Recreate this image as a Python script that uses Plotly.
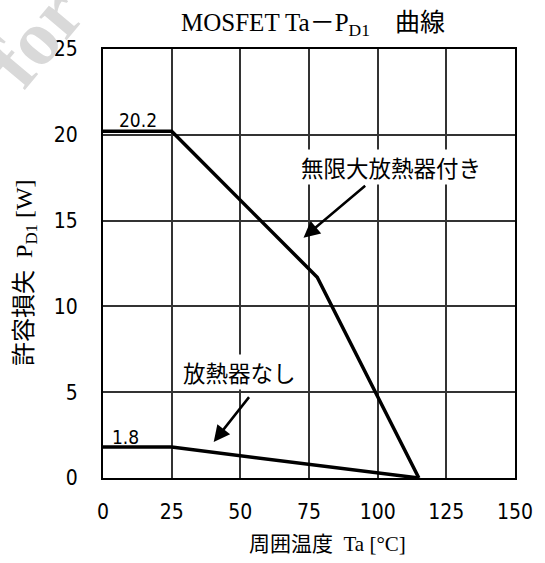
import plotly.graph_objects as go

# ---- data ----
ta_heatsink = [0, 25, 78, 115]
pd_heatsink = [20.2, 20.2, 11.7, 0]
ta_noheatsink = [0, 25, 115]
pd_noheatsink = [1.8, 1.8, 0]
x_ticks = [0, 25, 50, 75, 100, 125, 150]
y_ticks = [0, 5, 10, 15, 20, 25]

title_text = "MOSFET Ta－P<sub>D1</sub>　曲線"
x_title = "周囲温度  Ta [°C]"
y_title = "許容損失  P<sub>D1</sub> [W]"
label_heatsink = "無限大放熱器付き"
label_noheatsink = "放熱器なし"

NUMFONT = "DejaVu Sans Condensed, DejaVu Sans"
SERIF = "Liberation Serif, Noto Sans CJK JP"
CJK = "Noto Sans CJK JP"

L, R, T, B = 103, 25, 49, 85
W, H = 545, 563
PW, PH = W - L - R, H - T - B


def px(xp):
    return (xp - L) / PW


def py(yp):
    return (H - B - yp) / PH


fig = go.Figure()
fig.add_trace(go.Scatter(x=ta_heatsink, y=pd_heatsink, mode="lines",
                         line=dict(color="black", width=3.5), showlegend=False,
                         cliponaxis=False, hoverinfo="skip"))
fig.add_trace(go.Scatter(x=ta_noheatsink, y=pd_noheatsink, mode="lines",
                         line=dict(color="black", width=3.5), showlegend=False,
                         cliponaxis=False, hoverinfo="skip"))

ann = []
# watermark fragment (cut at the page corner, as in the reference)
ann.append(dict(x=px(34), y=py(36), xref="paper", yref="paper", text="<b>for</b>",
                showarrow=False, textangle=-50, xanchor="center", yanchor="middle",
                font=dict(family="Liberation Serif", size=78, color="#d9d9d9")))
# value labels
ann.append(dict(x=12.6, y=20.86, xref="x", yref="y", text="20.2", showarrow=False,
                font=dict(family=NUMFONT, size=19, color="black")))
ann.append(dict(x=8.3, y=2.4, xref="x", yref="y", text="1.8", showarrow=False,
                font=dict(family=NUMFONT, size=19, color="black")))
ann.append(dict(x=114, y=-0.7, xref="x", yref="y", text="115", showarrow=False,
                font=dict(family=NUMFONT, size=19, color="black")))
# curve labels
ann.append(dict(x=105, y=18.1, xref="x", yref="y", text=label_heatsink, showarrow=False,
                bgcolor="white", font=dict(family=CJK, size=22.5, color="black")))
ann.append(dict(x=49.6, y=6.2, xref="x", yref="y", text=label_noheatsink, showarrow=False,
                bgcolor="white", font=dict(family=CJK, size=22.5, color="black")))
# arrows
ann.append(dict(x=73.0, y=14.0, ax=96.0, ay=17.1, xref="x", yref="y", axref="x", ayref="y",
                text="", showarrow=True, arrowhead=2, arrowsize=1.3, arrowwidth=2.5,
                arrowcolor="black"))
ann.append(dict(x=40.3, y=2.1, ax=53.6, ay=4.8, xref="x", yref="y", axref="x", ayref="y",
                text="", showarrow=True, arrowhead=2, arrowsize=1.3, arrowwidth=2.5,
                arrowcolor="black"))
# axis titles
ann.append(dict(x=px(330), y=py(544), xref="paper", yref="paper", text=x_title,
                showarrow=False, xanchor="center", yanchor="middle",
                font=dict(family=SERIF, size=21, color="black")))
ann.append(dict(x=px(25), y=py(272), xref="paper", yref="paper", text=y_title,
                showarrow=False, xanchor="center", yanchor="middle", textangle=-90,
                font=dict(family=SERIF, size=24, color="black")))

fig.update_layout(
    width=W, height=H,
    margin=dict(l=L, r=R, t=T, b=B),
    paper_bgcolor="white", plot_bgcolor="white",
    title=dict(text=title_text, x=313 / W, xanchor="center", xref="container",
               y=1 - 22 / H, yanchor="middle", yref="container",
               font=dict(family=SERIF, size=25, color="black")),
    annotations=ann,
    showlegend=False,
    hovermode=False,
)

fig.update_xaxes(range=[0, 150], tickvals=x_ticks, ticktext=[str(v) for v in x_ticks],
                 showgrid=True, gridcolor="#333333", gridwidth=2,
                 showline=True, linecolor="black", linewidth=2, mirror=True,
                 zeroline=False, ticks="outside", ticklen=14, tickcolor="rgba(0,0,0,0)",
                 tickfont=dict(family=NUMFONT, size=21, color="black"))
fig.update_yaxes(range=[0, 25], tickvals=y_ticks, ticktext=[str(v) for v in y_ticks],
                 showgrid=True, gridcolor="#333333", gridwidth=2,
                 showline=True, linecolor="black", linewidth=2, mirror=True,
                 zeroline=False, ticks="outside", ticklen=19, tickcolor="rgba(0,0,0,0)",
                 tickfont=dict(family=NUMFONT, size=21, color="black"))

fig.write_html("out.html", config={"displayModeBar": False},
               post_script="document.body.style.margin='0px';")
